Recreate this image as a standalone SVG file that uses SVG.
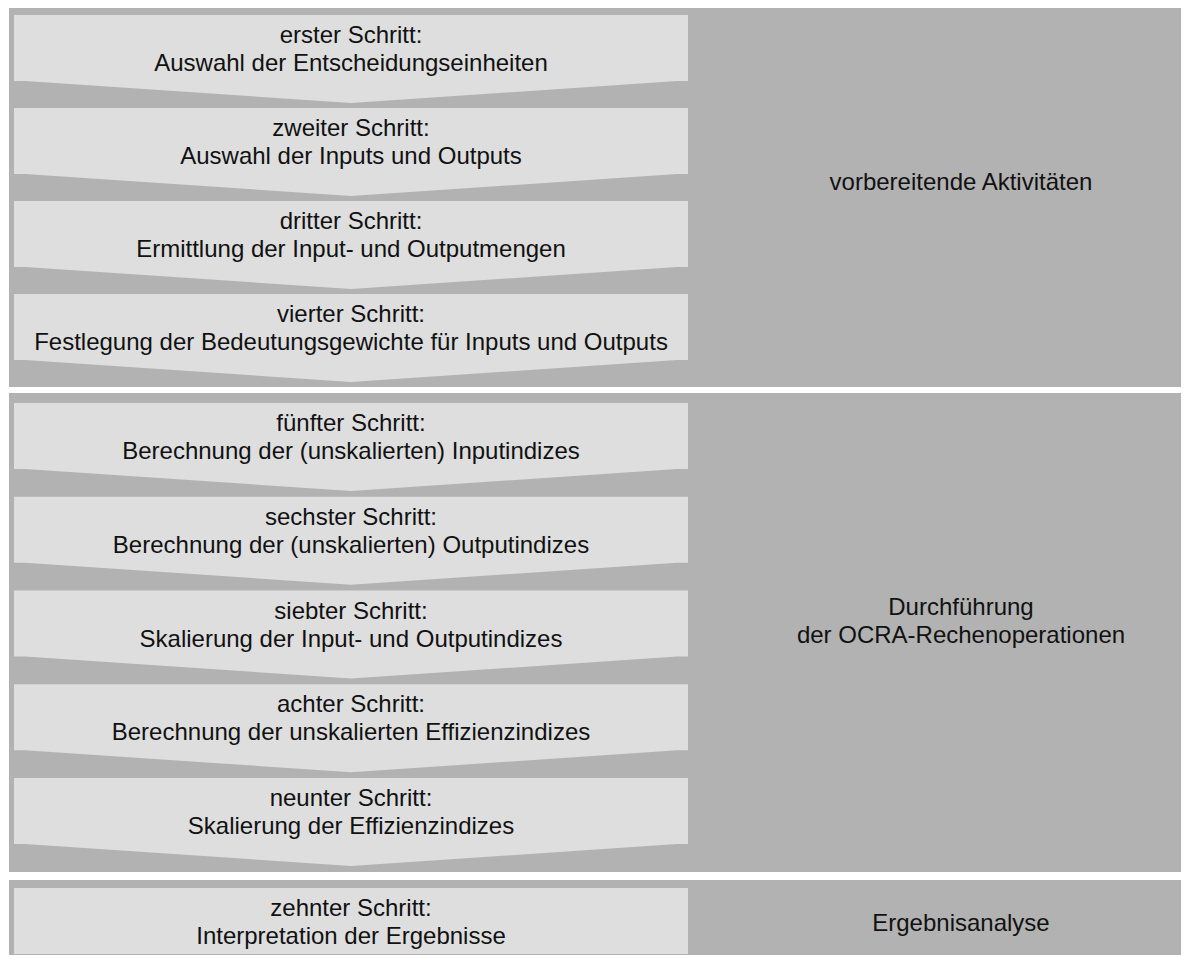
<svg xmlns="http://www.w3.org/2000/svg" width="1185" height="955" viewBox="0 0 1185 955">
<defs>
<style>
.sec{fill:#b2b2b2}
.step{fill:#dedede}
.t{font-family:"Liberation Sans",Arial,sans-serif;font-size:24px;fill:#111;text-anchor:middle}
</style>
</defs>
<rect width="1185" height="955" fill="#ffffff"/>
<g id="sections">
<rect id="sec1" class="sec" x="9" y="8" width="1172" height="379"/>
<rect id="sec2" class="sec" x="9" y="393" width="1172" height="479"/>
<rect id="sec3" class="sec" x="9" y="880" width="1172" height="75"/>
</g>
<g id="step1"><path class="step" d="M14 15H688V81H677L351 103L25 81H14Z"/><text class="t" x="351" y="43">erster Schritt:</text><text class="t" x="351" y="71">Auswahl der Entscheidungseinheiten</text></g>
<g id="step2"><path class="step" d="M14 108H688V174H677L351 196L25 174H14Z"/><text class="t" x="351" y="136">zweiter Schritt:</text><text class="t" x="351" y="164">Auswahl der Inputs und Outputs</text></g>
<g id="step3"><path class="step" d="M14 201H688V267H677L351 289L25 267H14Z"/><text class="t" x="351" y="229">dritter Schritt:</text><text class="t" x="351" y="257">Ermittlung der Input- und Outputmengen</text></g>
<g id="step4"><path class="step" d="M14 294H688V360H677L351 382L25 360H14Z"/><text class="t" x="351" y="322">vierter Schritt:</text><text class="t" x="351" y="350">Festlegung der Bedeutungsgewichte für Inputs und Outputs</text></g>
<g id="step5"><path class="step" d="M14 403H688V469H677L351 491L25 469H14Z"/><text class="t" x="351" y="431">fünfter Schritt:</text><text class="t" x="351" y="459">Berechnung der (unskalierten) Inputindizes</text></g>
<g id="step6"><path class="step" d="M14 496.75H688V562.75H677L351 584.75L25 562.75H14Z"/><text class="t" x="351" y="524.75">sechster Schritt:</text><text class="t" x="351" y="552.75">Berechnung der (unskalierten) Outputindizes</text></g>
<g id="step7"><path class="step" d="M14 590.5H688V656.5H677L351 678.5L25 656.5H14Z"/><text class="t" x="351" y="618.5">siebter Schritt:</text><text class="t" x="351" y="646.5">Skalierung der Input- und Outputindizes</text></g>
<g id="step8"><path class="step" d="M14 684.25H688V750.25H677L351 772.25L25 750.25H14Z"/><text class="t" x="351" y="712.25">achter Schritt:</text><text class="t" x="351" y="740.25">Berechnung der unskalierten Effizienzindizes</text></g>
<g id="step9"><path class="step" d="M14 778H688V844H677L351 866L25 844H14Z"/><text class="t" x="351" y="806">neunter Schritt:</text><text class="t" x="351" y="834">Skalierung der Effizienzindizes</text></g>
<g id="step10"><rect class="step" x="14" y="888" width="674" height="66"/><text class="t" x="351" y="916">zehnter Schritt:</text><text class="t" x="351" y="944">Interpretation der Ergebnisse</text></g>
<g id="label1"><text class="t" x="961" y="190">vorbereitende Aktivitäten</text></g>
<g id="label2"><text class="t" x="961" y="615">Durchführung</text><text class="t" x="961" y="643">der OCRA-Rechenoperationen</text></g>
<g id="label3"><text class="t" x="961" y="931">Ergebnisanalyse</text></g>
<g id="connectors"></g>
</svg>
